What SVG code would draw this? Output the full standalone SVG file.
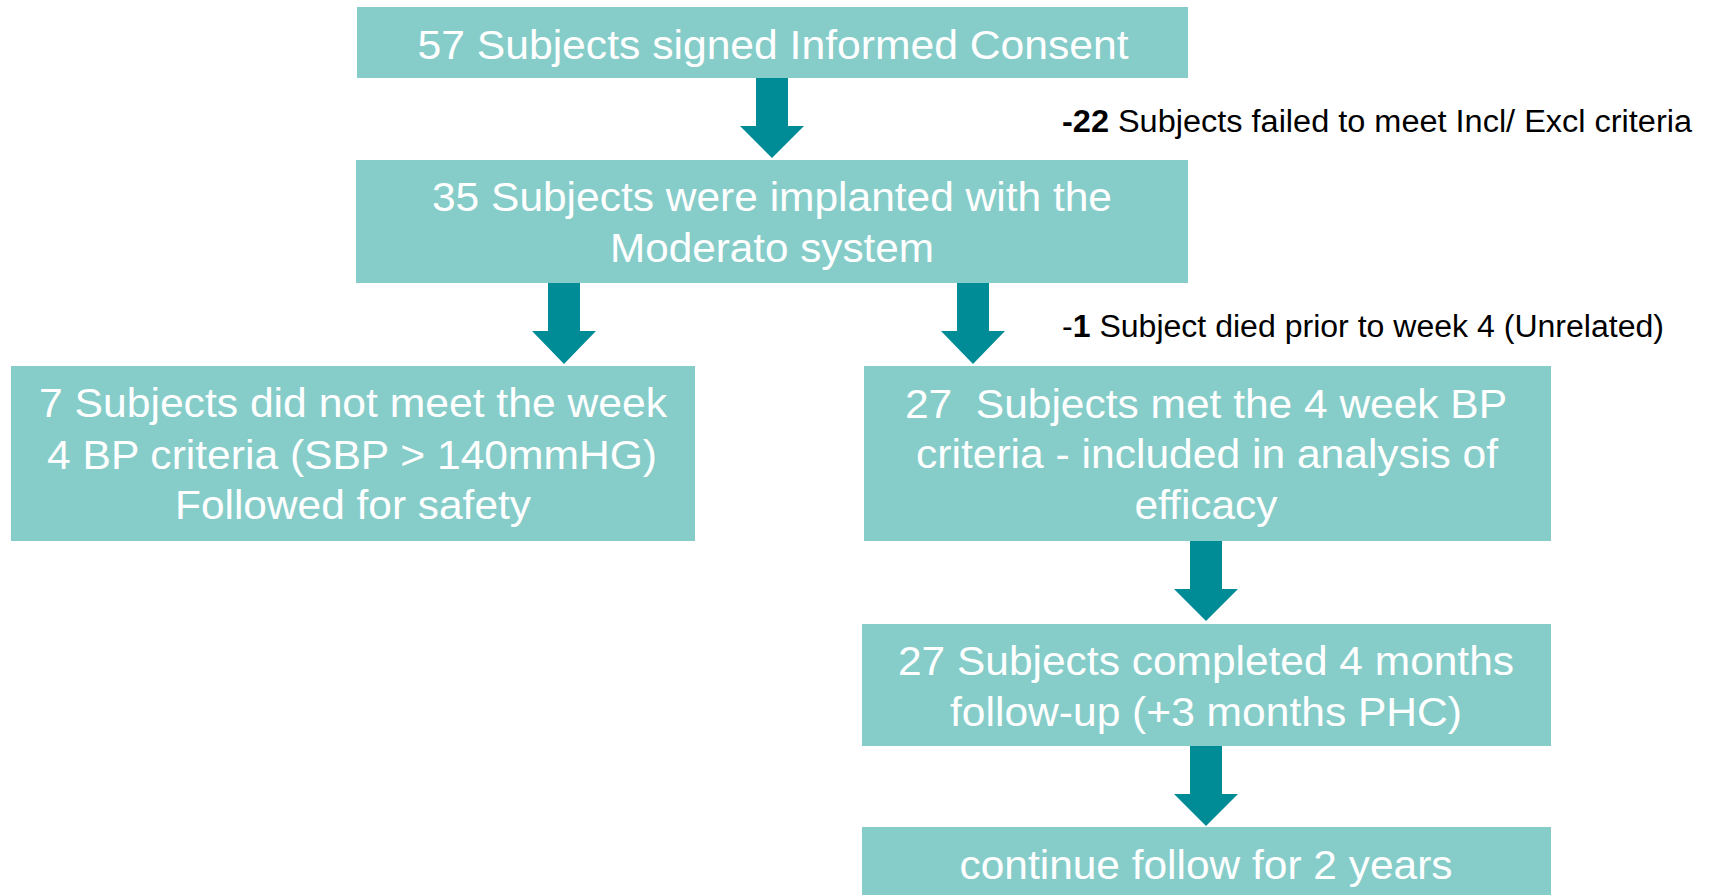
<svg xmlns="http://www.w3.org/2000/svg" width="1709" height="895" viewBox="0 0 1709 895">
<style>
.box{fill:#86CDCA}
.arr{fill:#008C96}
.t{font-family:"Liberation Sans",Arial,sans-serif;font-size:41px;fill:#FFFFFF;text-anchor:middle}
.s{font-family:"Liberation Sans",Arial,sans-serif;font-size:31px;fill:#000000}
.b{font-weight:bold}
</style>
<rect width="1709" height="895" fill="#FFFFFF"/>
<g id="connectors">
<path class="arr" d="M756,77 H788 V126 H804 L772,158 L740,126 H756 Z"/>
<path class="arr" d="M548,283 H580 V331 H596 L564,364 L532,331 H548 Z"/>
<path class="arr" d="M957,283 H989 V331 H1005 L973,364 L941,331 H957 Z"/>
<path class="arr" d="M1190,540 H1222 V589 H1238 L1206,621 L1174,589 H1190 Z"/>
<path class="arr" d="M1190,746 H1222 V794 H1238 L1206,826 L1174,794 H1190 Z"/>
</g>
<g id="n1">
<rect class="box" x="357" y="7" width="831" height="71"/>
<text class="t" x="773" y="59" textLength="711" lengthAdjust="spacingAndGlyphs">57 Subjects signed Informed Consent</text>
</g>
<g id="n2">
<rect class="box" x="356" y="160" width="832" height="123"/>
<text class="t" x="772" y="211" textLength="680" lengthAdjust="spacingAndGlyphs">35 Subjects were implanted with the</text>
<text class="t" x="772" y="262" textLength="324" lengthAdjust="spacingAndGlyphs">Moderato system</text>
</g>
<g id="n3">
<rect class="box" x="11" y="366" width="684" height="175"/>
<text class="t" x="353" y="417" textLength="628" lengthAdjust="spacingAndGlyphs">7 Subjects did not meet the week</text>
<text class="t" x="352" y="469" textLength="610" lengthAdjust="spacingAndGlyphs">4 BP criteria (SBP &gt; 140mmHG)</text>
<text class="t" x="353" y="519" textLength="356" lengthAdjust="spacingAndGlyphs">Followed for safety</text>
</g>
<g id="n4">
<rect class="box" x="864" y="366" width="687" height="175"/>
<text class="t" x="1206" y="418" textLength="602" lengthAdjust="spacingAndGlyphs" xml:space="preserve">27  Subjects met the 4 week BP</text>
<text class="t" x="1207" y="468" textLength="582" lengthAdjust="spacingAndGlyphs">criteria - included in analysis of</text>
<text class="t" x="1206" y="519" textLength="143" lengthAdjust="spacingAndGlyphs">efficacy</text>
</g>
<g id="n5">
<rect class="box" x="862" y="624" width="689" height="122"/>
<text class="t" x="1206" y="675" textLength="616" lengthAdjust="spacingAndGlyphs">27 Subjects completed 4 months</text>
<text class="t" x="1206" y="726" textLength="512" lengthAdjust="spacingAndGlyphs">follow-up (+3 months PHC)</text>
</g>
<g id="n6">
<rect class="box" x="862" y="827" width="689" height="68"/>
<text class="t" x="1206" y="879" textLength="493" lengthAdjust="spacingAndGlyphs">continue follow for 2 years</text>
</g>
<g id="labels">
<text class="s" x="1062" y="132" textLength="630" lengthAdjust="spacingAndGlyphs"><tspan class="b">-22</tspan> Subjects failed to meet Incl/ Excl criteria</text>
<text class="s" x="1062" y="337" textLength="602" lengthAdjust="spacingAndGlyphs">-<tspan class="b">1</tspan> Subject died prior to week 4 (Unrelated)</text>
</g>
</svg>
